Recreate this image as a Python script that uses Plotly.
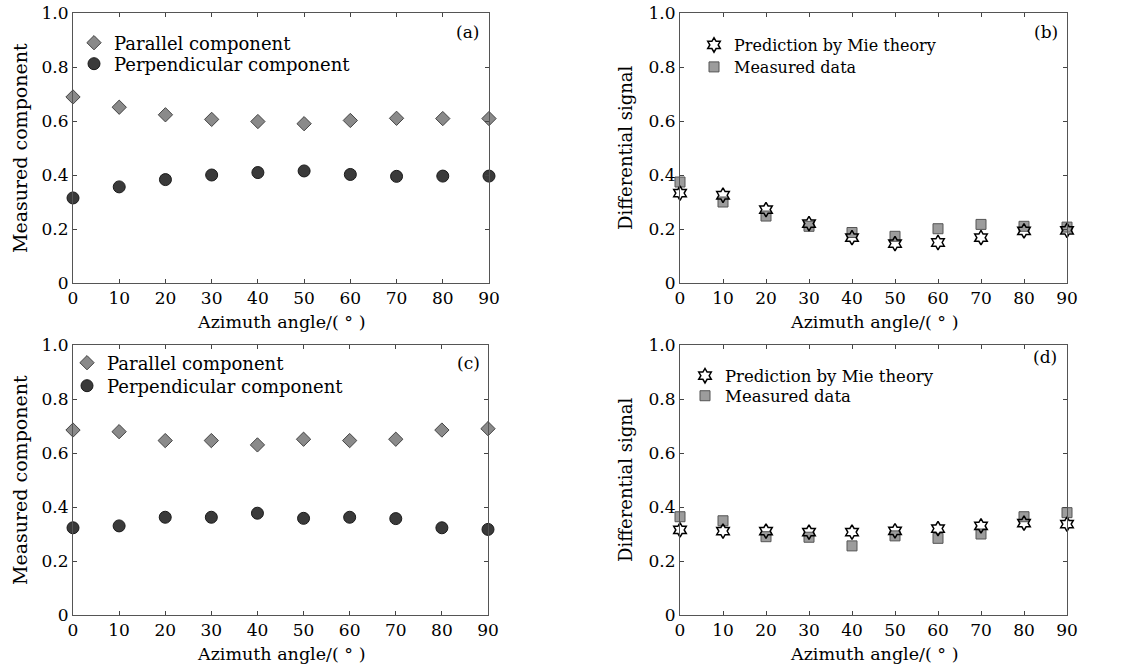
import plotly.graph_objects as go

angles = [0, 10, 20, 30, 40, 50, 60, 70, 80, 90]

# Panel (a)
a_parallel = [0.689, 0.651, 0.623, 0.606, 0.598, 0.590, 0.602, 0.610, 0.609, 0.609]
a_perpendicular = [0.315, 0.356, 0.383, 0.400, 0.409, 0.415, 0.402, 0.395, 0.396, 0.396]
# Panel (b)
b_prediction = [0.333, 0.325, 0.272, 0.220, 0.168, 0.146, 0.150, 0.168, 0.193, 0.195]
b_measured = [0.374, 0.300, 0.248, 0.210, 0.187, 0.173, 0.201, 0.217, 0.210, 0.207]
# Panel (c)
c_parallel = [0.685, 0.679, 0.646, 0.646, 0.630, 0.651, 0.646, 0.651, 0.685, 0.690]
c_perpendicular = [0.323, 0.330, 0.362, 0.362, 0.377, 0.358, 0.362, 0.357, 0.323, 0.317]
# Panel (d)
d_prediction = [0.315, 0.311, 0.311, 0.307, 0.307, 0.312, 0.320, 0.330, 0.340, 0.337]
d_measured = [0.364, 0.349, 0.290, 0.288, 0.256, 0.293, 0.284, 0.300, 0.364, 0.379]

x_ticks = [0, 10, 20, 30, 40, 50, 60, 70, 80, 90]
y_ticks = [0, 0.2, 0.4, 0.6, 0.8, 1.0]
y_ticktext = ["0", "0.2", "0.4", "0.6", "0.8", "1.0"]
panel_labels = ["(a)", "(b)", "(c)", "(d)"]
x_title = "Azimuth angle/( ° )"
y_titles = ["Measured component", "Differential signal", "Measured component", "Differential signal"]
names_comp = ["Parallel component", "Perpendicular component"]
names_diff = ["Prediction by Mie theory", "Measured data"]

W, H = 1123, 665
FONT = "DejaVu Serif"

# pixel boxes: (x0, x1, ytop, ybottom)
boxes = [(73, 489, 13, 283), (680, 1067, 13, 283), (73, 488, 345, 615), (680, 1067, 345, 615)]
# panel label (right edge x, center y)
label_pos = [(481, 32), (1060, 32), (482, 363), (1059, 357)]
# y title centre x
ytitle_x = [20, 625, 20, 625]
ytitle_size = [19, 18, 19, 18]
# legend entries: (text start x, row centre y) for first / second entry
legend_rows = [[(115, 43), (115, 64)],
               [(735, 45), (735, 67)],
               [(108, 363), (108, 386)],
               [(726, 376), (726, 396)]]
legend_font = [18, 16, 18, 16.5]

fig = go.Figure()
leg_counter = [0]

def next_leg():
    leg_counter[0] += 1
    return "legend" if leg_counter[0] == 1 else "legend%d" % leg_counter[0]

legend_keys = []

def comp_traces(par, perp, ax):
    l1, l2 = next_leg(), next_leg()
    legend_keys.extend([l1, l2])
    fig.add_trace(go.Scatter(x=angles, y=par, mode="markers", name=names_comp[0],
                             xaxis="x" + ax, yaxis="y" + ax, legend=l1, cliponaxis=False,
                             marker=dict(symbol="diamond", size=11, color="#8a8a8a",
                                         line=dict(color="#444444", width=1))))
    fig.add_trace(go.Scatter(x=angles, y=perp, mode="markers", name=names_comp[1],
                             xaxis="x" + ax, yaxis="y" + ax, legend=l2, cliponaxis=False,
                             marker=dict(symbol="circle", size=12, color="#3a3a3a",
                                         line=dict(color="#1a1a1a", width=1))))

def diff_traces(pred, meas, ax):
    l1, l2 = next_leg(), next_leg()
    legend_keys.extend([l1, l2])
    fig.add_trace(go.Scatter(x=angles, y=meas, mode="markers", name=names_diff[1],
                             xaxis="x" + ax, yaxis="y" + ax, legend=l2, cliponaxis=False,
                             marker=dict(symbol="square", size=10, color="#9c9c9c",
                                         line=dict(color="#555555", width=1))))
    fig.add_trace(go.Scatter(x=angles, y=pred, mode="markers", name=names_diff[0],
                             xaxis="x" + ax, yaxis="y" + ax, legend=l1, cliponaxis=False,
                             marker=dict(symbol="hexagram-open", size=11, color="black",
                                         line=dict(color="black", width=1.5))))

comp_traces(a_parallel, a_perpendicular, "")
diff_traces(b_prediction, b_measured, "2")
comp_traces(c_parallel, c_perpendicular, "3")
diff_traces(d_prediction, d_measured, "4")

layout = dict(width=W, height=H, margin=dict(l=0, r=0, t=0, b=0), template="none",
              paper_bgcolor="white", plot_bgcolor="white",
              font=dict(family=FONT, size=17, color="black"), showlegend=True)

annotations = []
for i, (x0, x1, yt, yb) in enumerate(boxes):
    sfx = "" if i == 0 else str(i + 1)
    layout["xaxis" + sfx] = dict(domain=[x0 / W, x1 / W], range=[0, 90], automargin=False,
                                 anchor="y" + sfx, tickvals=x_ticks, ticks="inside", ticklen=4,
                                 showline=True, linecolor="#555555", linewidth=1, mirror="ticks",
                                 showgrid=False, zeroline=False,
                                 tickfont=dict(family=FONT, size=17))
    layout["yaxis" + sfx] = dict(domain=[1 - yb / H, 1 - yt / H], range=[0, 1.0], automargin=False,
                                 anchor="x" + sfx, tickvals=y_ticks, ticktext=y_ticktext,
                                 ticks="inside", ticklen=4,
                                 showline=True, linecolor="#555555", linewidth=1, mirror="ticks",
                                 showgrid=False, zeroline=False,
                                 tickfont=dict(family=FONT, size=17))
    # x title
    annotations.append(dict(text=x_title, x=(x0 + x1) / 2 / W, y=1 - (yb + 39) / H,
                            xref="paper", yref="paper", xanchor="center", yanchor="middle",
                            showarrow=False, font=dict(family=FONT, size=17.5)))
    # y title
    annotations.append(dict(text=y_titles[i], x=ytitle_x[i] / W, y=1 - (yt + yb) / 2 / H,
                            xref="paper", yref="paper", xanchor="center", yanchor="middle",
                            textangle=-90, showarrow=False,
                            font=dict(family=FONT, size=ytitle_size[i])))
    lx, ly = label_pos[i]
    annotations.append(dict(text=panel_labels[i], x=lx / W, y=1 - ly / H,
                            xref="paper", yref="paper", xanchor="right", yanchor="middle",
                            showarrow=False, font=dict(family=FONT, size=17)))

k = 0
for i, rows in enumerate(legend_rows):
    for (tx, ty) in rows:
        key = legend_keys[k]
        k += 1
        layout[key] = dict(x=(tx - 41) / W, y=1 - ty / H, xanchor="left", yanchor="middle",
                           bgcolor="rgba(0,0,0,0)", borderwidth=0,
                           font=dict(family=FONT, size=legend_font[i]), itemwidth=30)

layout["annotations"] = annotations
fig.update_layout(**layout)
fig.write_html("out.html", config={"displayModeBar": False},
               post_script="document.body.style.margin='0';document.body.style.overflow='hidden';")
